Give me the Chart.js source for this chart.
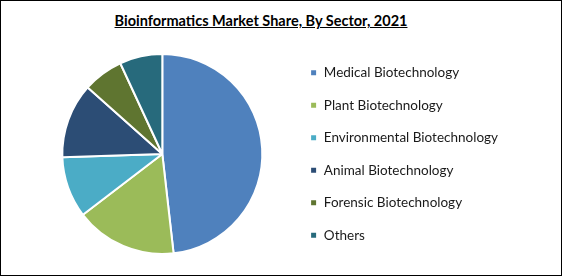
<!DOCTYPE html>
<html><head><meta charset="utf-8">
<script src="https://cdn.jsdelivr.net/npm/chart.js@4/dist/chart.umd.min.js"></script>
<style>
html,body{margin:0;padding:0;background:#fff;}
#wrap{position:relative;width:562px;height:276px;box-sizing:border-box;border:1px solid #000;background:#fff;overflow:hidden;}
#title{position:absolute;left:0;width:520px;top:11px;line-height:18px;text-align:center;font-family:Lato,sans-serif;font-weight:bold;font-size:14.5px;text-decoration:underline;color:#000;white-space:nowrap;}
canvas{position:absolute;left:0;top:0;}
</style></head>
<body>
<div id="wrap">
<div id="title">Bioinformatics Market Share, By Sector, 2021</div>
<canvas id="c" width="560" height="274"></canvas>
</div>
<script>
const categories = ["Medical Biotechnology","Plant Biotechnology","Environmental Biotechnology","Animal Biotechnology","Forensic Biotechnology","Others"];
const shares = [48.2, 16.4, 9.9, 12.1, 6.5, 6.9];
const colors = ["#4F81BD","#9BBB59","#4BACC6","#2C4D75","#5F7530","#276A7C"];

new Chart(document.getElementById('c'), {
  type: 'pie',
  data: {
    labels: categories,
    datasets: [{
      data: shares,
      backgroundColor: colors,
      borderColor: '#ffffff',
      borderWidth: 2,
      radius: 100
    }]
  },
  options: {
    responsive: false,
    animation: false,
    layout: { padding: { top: 32, bottom: 0, left: 32.5, right: 53 } },
    plugins: {
      title: { display: false },
      tooltip: { enabled: false },
      legend: {
        position: 'right',
        align: 'center',
        labels: {
          boxWidth: 7,
          boxHeight: 7,
          padding: 19,
          color: '#1a1a1a',
          font: { family: 'Lato', size: 13.5 }
        }
      }
    }
  }
});
</script>
</body></html>
